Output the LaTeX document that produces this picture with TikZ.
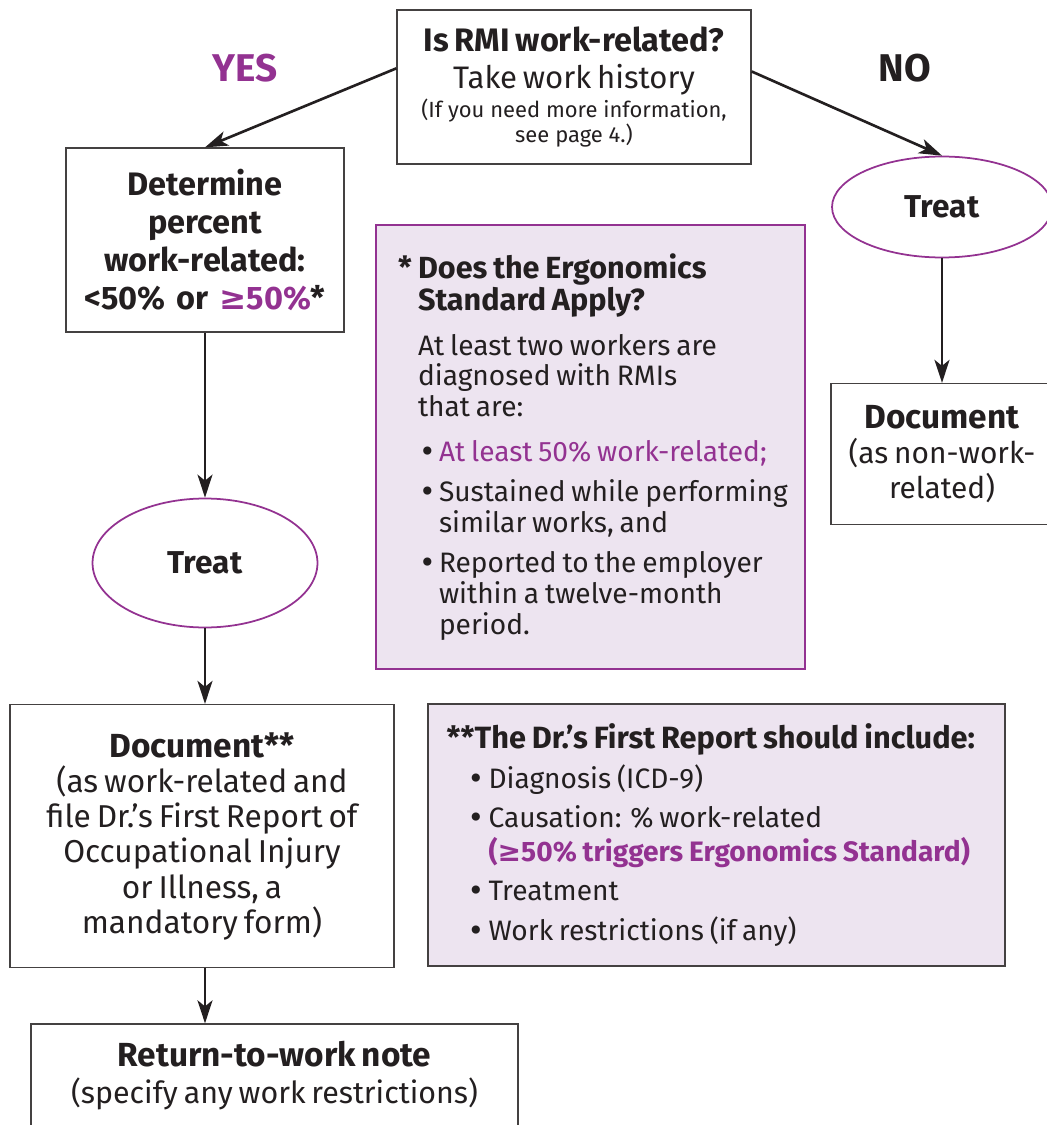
\documentclass[tikz,border=0pt]{standalone}
\usepackage{fontspec}
\setmainfont{Fira Sans}
\newfontfamily\rmisym{DejaVu Sans}
\usepackage{tikz}
\usetikzlibrary{arrows.meta,positioning,shapes.geometric}
\definecolor{rmitext}{RGB}{35,31,32}
\definecolor{rmipurple}{RGB}{147,50,145}
\definecolor{rmililac}{RGB}{237,228,240}

\newcommand{\rmige}{{\rmisym ≥}}
\newcommand{\rmiline}[3]{{\fontsize{#1}{#2}\selectfont #3\par}}
\newlength\rmibulw
\newcommand{\rmibullet}[1][0pt]{\par\vspace{#1}\hangindent=\rmibulw\hangafter=1\noindent\makebox[\rmibulw][l]{\hspace{0.02cm}{\rmisym •}}}

\begin{document}
\begin{tikzpicture}[x=0.02cm,y=-0.02cm,
    flowbox/.style={draw=rmitext!85,line width=0.75pt,text=rmitext,align=center,inner sep=0pt},
    treatoval/.style={ellipse,draw=rmipurple,line width=1pt,text=rmitext,inner sep=0pt,
      font=\fontsize{18}{22}\selectfont\bfseries},
    notebox/.style={fill=rmililac,line width=0.75pt,text=rmitext,align=left,inner ysep=0pt},
    flowarrow/.style={draw=rmitext,line width=1.5pt,-{Stealth[length=0.46cm,width=0.3cm,inset=0.12cm]}},
    answer/.style={font=\fontsize{22}{26}\selectfont\bfseries}]
    \useasboundingbox (0,0) rectangle (1047,1125);
    \clip (0,0) rectangle (1047,1125);
    % question at the top
    \node[flowbox,minimum width=7.08cm,minimum height=3.08cm,text width=7cm] (work) at (574,87)
      {\rmiline{18.5}{21}{\bfseries Is RMI work-related?}
       \rmiline{17.7}{21.5}{Take work history}
       \rmiline{12.5}{16.4}{(If you need more information,}
       \rmiline{12.5}{13}{see page 4.)}};
    \node[answer,text=rmipurple] (yes) at (245,68) {YES};
    \node[answer,text=rmitext] (no) at (905,68) {NO};
    % yes branch
    \node[flowbox,minimum width=5.56cm,minimum height=3.68cm,text width=5.4cm,
      font=\fontsize{18.5}{21.5}\selectfont\bfseries] (percent) at (205,240)
      {Determine\par percent\par work-related:\par <50\% or \textcolor{rmipurple}{\rmige 50\%}*\par};
    \node[treatoval,minimum width=4.5cm,minimum height=2.58cm] (treatyes) at (205,563) {Treat};
    \node[flowbox,minimum width=7.68cm,minimum height=5.26cm,text width=7.5cm] (docyes) at (202,836)
      {\rmiline{19}{20}{\bfseries Document**}
       \rmiline{18}{20.4}{(as work-related and}
       \rmiline{18}{19.8}{file Dr.'s First Report of}
       \rmiline{18}{19.8}{Occupational Injury}
       \rmiline{18}{20.4}{or Illness, a}
       \rmiline{18}{19.8}{mandatory form)}};
    \node[flowbox,minimum width=9.74cm,minimum height=2.08cm,text width=9.5cm] (rtw) at (274.5,1076)
      {\rmiline{19}{20}{\bfseries Return-to-work note}
       \rmiline{17.3}{21}{(specify any work restrictions)}};
    % no branch
    \node[treatoval,minimum width=4.4cm,minimum height=2.02cm] (treatno) at (942,207) {Treat};
    \node[flowbox,minimum width=4.44cm,minimum height=2.82cm,text width=4.3cm] (docno) at (942,454)
      {\rmiline{19}{20}{\bfseries Document}
       \rmiline{17}{20.4}{(as non-work-}
       \rmiline{17}{19.8}{related)}};
    % notes
    \node[notebox,draw=rmipurple,minimum width=8.58cm,minimum height=8.88cm,
      text width=8.1cm,inner xsep=0.24cm] (ergo) at (590.5,447)
      {\setlength\rmibulw{0.42cm}%
       \fontsize{17.4}{17}\selectfont\bfseries\leftskip=0.2cm
       \hangindent=0.4cm\hangafter=1\noindent\makebox[0.4cm][l]{*}Does the Ergonomics\newline Standard Apply?\par
       \vspace{8pt}\fontsize{16}{17.5}\selectfont\mdseries\leftskip=0.6cm
       \noindent At least two workers are\newline diagnosed with RMIs\newline that are:
       \rmibullet[8pt]\textcolor{rmipurple}{At least 50\% work-related;}
       \rmibullet[5.5pt]Sustained while performing\newline similar works, and
       \rmibullet[5.5pt]Reported to the employer\newline within a twelve-month\newline period.\par};
    \node[notebox,draw=rmitext!85,minimum width=11.54cm,minimum height=5.24cm,
      text width=11.2cm,inner xsep=0.17cm] (report) at (716.5,835)
      {\setlength\rmibulw{0.44cm}%
       \fontsize{17.5}{19}\selectfont\bfseries\leftskip=0.2cm
       \noindent **The Dr.'s First Report should include:\par
       \fontsize{16}{19}\selectfont\mdseries\leftskip=0.6cm
       \rmibullet[3.5pt]Diagnosis (ICD-9)
       \rmibullet[3.5pt]Causation: \% work-related\newline\textcolor{rmipurple}{\bfseries(\rmige 50\% triggers Ergonomics Standard)}
       \rmibullet[3.5pt]Treatment
       \rmibullet[3.5pt]Work restrictions (if any)\par};
    % arrows
    \draw[flowarrow] (work.174.5) -- (percent.north);
    \draw[flowarrow] (work.5.5) -- (treatno.north);
    \draw[flowarrow] (percent.south) -- (treatyes.north);
    \draw[flowarrow] (treatyes.south) -- (treatyes.south |- docyes.north);
    \draw[flowarrow] (docyes.south -| percent.south) -- (rtw.north -| percent.south);
    \draw[flowarrow] (treatno.south) -- (docno.north);
\end{tikzpicture}
\end{document}
